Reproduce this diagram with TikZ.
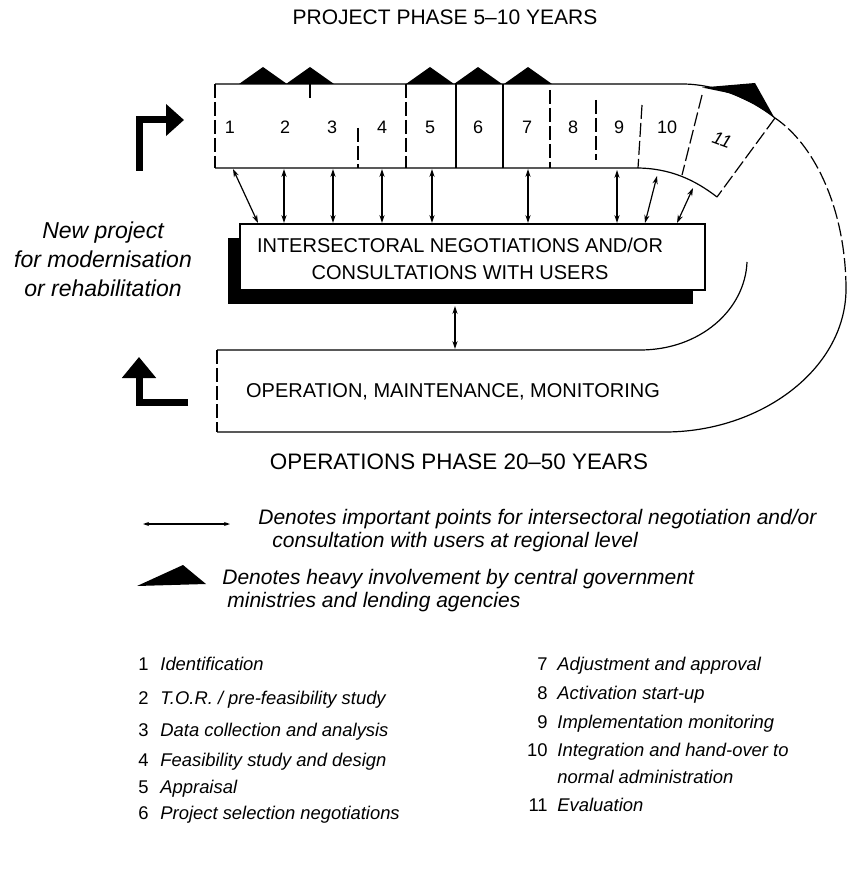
\documentclass[tikz,border=0pt]{standalone}
\usepackage{fontspec}
\setmainfont{Liberation Sans}
\usetikzlibrary{arrows.meta,shadows}
\newcommand\setfs[2]{\fontsize{#1}{#2}\selectfont}

\begin{document}
\begin{tikzpicture}[x=0.5pt,y=-0.5pt,
  edge/.style={line width=0.6pt},
  dashedge/.style={line width=0.6pt,dash pattern=on 7pt off 2pt},
  twoway/.style={line width=0.6pt,{Stealth[length=4pt,width=2.6pt]}-{Stealth[length=4pt,width=2.6pt]}},
  bigarrow/.style={line width=3.5pt,line join=miter},
  caps/.style={font=\setfs{10}{13.5}},
  itemnum/.style={anchor=base east,inner sep=0pt,font=\setfs{9.2}{13.5}},
  itemtext/.style={anchor=base west,inner sep=0pt,font=\setfs{9.2}{13.5}\itshape,align=left},
  keytext/.style={anchor=west,inner sep=0pt,font=\setfs{10.5}{11.5}\itshape,align=left}]
\useasboundingbox (0,0) rectangle (846,876);

\node[font=\setfs{10.5}{12}] (projphase) at (445,17) {PROJECT PHASE 5--10 YEARS};

\draw[edge] (215,84) -- (682,84) .. controls (715,84) and (750,98) .. (775,118);
\draw[edge] (215,168) -- (636,168) .. controls (670,168) and (695,180) .. (717,197);
\draw[dashedge] (215,84) -- (215,168);
\draw[dashedge] (775,118) -- (717,197);
\foreach \x in {263,310,430,478,528}
  \fill (\x-24,84) -- (\x,67) -- (\x+24,84) -- cycle;
\fill (702,87.5) -- (755,83) -- (774,117) -- (754,104) -- (731,93.5) -- cycle;

\draw[dashedge] (310,84) -- (310,100);
\draw[dashedge] (358,128) -- (358,168);
\draw[dashedge] (406,84) -- (406,168);
\draw[edge] (456,84) -- (456,168);
\draw[edge] (503,84) -- (503,168);
\draw[dashedge] (550,90) -- (550,168);
\draw[dashedge] (596,100) -- (596,160);
\draw[dashedge] (642,105) -- (638,168);
\draw[dashedge] (702,95) -- (682,175);

\foreach \n/\x in {1/230,2/285,3/332,4/382,5/430,6/478,7/527,8/573,9/619,10/667}
  \node[font=\setfs{9}{11}] (cell\n) at (\x,127) {\n};
\node[font=\setfs{9}{11}\itshape,rotate=-20] (cell11) at (722,140) {11};

\draw[bigarrow,-{Triangle[length=9pt,width=15.5pt]}] (139,171) -- (139,120) -- (184,120);
\draw[bigarrow,-{Triangle[length=10.5pt,width=16.5pt]}] (188,402) -- (139,402) -- (139,357);

\node[font=\setfs{11.5}{14.5}\itshape,align=center] (newproj) at (103,259)
  {New project\\for modernisation\\or rehabilitation};

\node[draw,line width=1pt,fill=white,minimum width=232.5pt,minimum height=33pt,
  drop shadow={shadow xshift=-6.25pt,shadow yshift=-7.25pt,fill=black,opacity=1}]
  (neg) at (472.5,257) {};
\node[caps,align=center] (negtext) at (460,258.5)
  {INTERSECTORAL NEGOTIATIONS AND/OR\\CONSULTATIONS WITH USERS};

\foreach \i/\a/\b/\c in {1/233/169/258,2/284/169/284,3/333/169/333,4/382/169/382,
    5/432/169/432,6/528/169/528,7/617/170/617,8/657/176/645,9/693/188/677} {
  \coordinate (u\i) at (\a,\b);
  \coordinate (v\i) at (\c,0 |- neg.north);
  \draw[twoway] (u\i) -- (v\i);
}

\coordinate (shad) at (455,306);
\coordinate (optop) at (455,349);
\draw[twoway] (shad) -- (optop);

\draw[edge] (217,350) -- (640,350) .. controls (700,350) and (745,310) .. (747,262);
\draw[edge] (217,432) -- (665,432) .. controls (760,432) and (845,370) .. (846,290);
\draw[dashedge] (846,290) .. controls (846,210) and (815,145) .. (775,118);
\draw[dashedge] (217,350) -- (217,432);
\node[caps] (opmm) at (453,392) {OPERATION, MAINTENANCE, MONITORING};

\node[font=\setfs{11.2}{13}] (opphase) at (459,462) {OPERATIONS PHASE 20--50 YEARS};

\coordinate (keya) at (143,524);
\coordinate (keyb) at (230,524);
\draw[line width=0.7pt,{Stealth[length=3pt,width=2pt]}-{Stealth[length=3pt,width=2pt]}] (keya) -- (keyb);
\node[keytext] (key1) at (258,531)
  {Denotes important points for intersectoral negotiation and/or\\
   \hspace*{7pt}consultation with users at regional level};
\fill (137,586) -- (183,565) -- (206,584) -- cycle;
\node[keytext] (key2) at (222,591)
  {Denotes heavy involvement by central government\\
   \hspace*{2.5pt}ministries and lending agencies};

\foreach \n/\y/\t in {1/664/Identification,2/698/{T.O.R. / pre-feasibility study},
    3/730/Data collection and analysis,4/760/Feasibility study and design,
    5/787/Appraisal,6/813/Project selection negotiations} {
  \node[itemnum] (num\n) at (149,\y+6) {\n};
  \node[itemtext] (item\n) at (160,\y+6) {\t};
}
\foreach \n/\y/\t in {7/664/Adjustment and approval,8/693/Activation start-up,
    9/722/Implementation monitoring,11/805/Evaluation} {
  \node[itemnum] (num\n) at (548,\y+6) {\n};
  \node[itemtext] (item\n) at (557,\y+6) {\t};
}
\node[itemnum] (num10) at (548,756) {10};
\node[itemtext,anchor=west] (item10) at (557,763.5) {Integration and hand-over to\\normal administration};
\end{tikzpicture}
\end{document}
